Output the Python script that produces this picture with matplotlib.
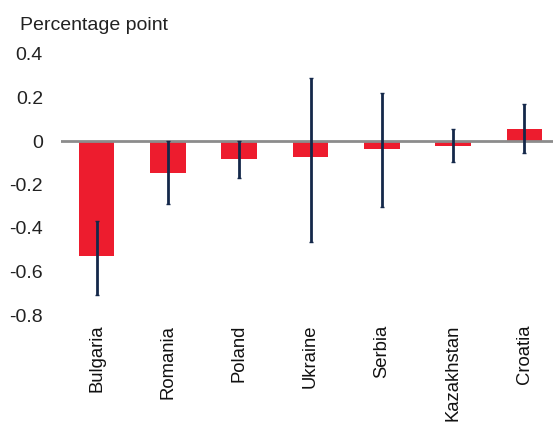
import matplotlib
matplotlib.use("Agg")
import matplotlib.pyplot as plt

countries = ["Bulgaria", "Romania", "Poland", "Ukraine", "Serbia", "Kazakhstan", "Croatia"]
values = [-0.53, -0.145, -0.083, -0.072, -0.037, -0.021, 0.054]
err_low = [-0.708, -0.29, -0.17, -0.463, -0.305, -0.097, -0.057]
err_high = [-0.366, 0.0, 0.0, 0.288, 0.219, 0.055, 0.17]
yticks = [0.4, 0.2, 0.0, -0.2, -0.4, -0.6, -0.8]
ytick_labels = ["0.4", "0.2", "0", "-0.2", "-0.4", "-0.6", "-0.8"]

plt.rcParams['font.family'] = ['Liberation Sans', 'DejaVu Sans']

fig = plt.figure(figsize=(5.54, 4.26), dpi=100)
ax = fig.add_axes([61/554, 1-315/426, (553-61)/554, (315-54)/426])

x = list(range(len(countries)))
ax.bar(x, values, width=0.5, color="#ED1C2E", zorder=2)
ax.axhline(0, color="#8c8c8c", linewidth=2, zorder=3)
ax.vlines(x, err_low, err_high, color="#14284a", linewidth=2, zorder=4)
ax.plot(x, err_low, linestyle="none", marker="_", markersize=3, color="#14284a", zorder=4)
ax.plot(x, err_high, linestyle="none", marker="_", markersize=3, color="#14284a", zorder=4)

ax.set_xlim(-0.5, 6.4)
ax.set_ylim(-0.8, 0.4)
ax.set_yticks(yticks)
ax.set_yticklabels(ytick_labels)
ax.set_xticks(x)
ax.set_xticklabels(countries, rotation=90, va="top", ha="center")
ax.tick_params(axis="y", length=0, pad=13, labelsize=14, labelcolor="#222222")
ax.tick_params(axis="x", length=0, pad=7, labelsize=13.3, labelcolor="#111111")
for s in ax.spines.values():
    s.set_visible(False)

fig.text(20/554, 1-25/426, "Percentage point", fontsize=14, color="#222222", va="center", ha="left")

fig.savefig("out.png", dpi=100)
